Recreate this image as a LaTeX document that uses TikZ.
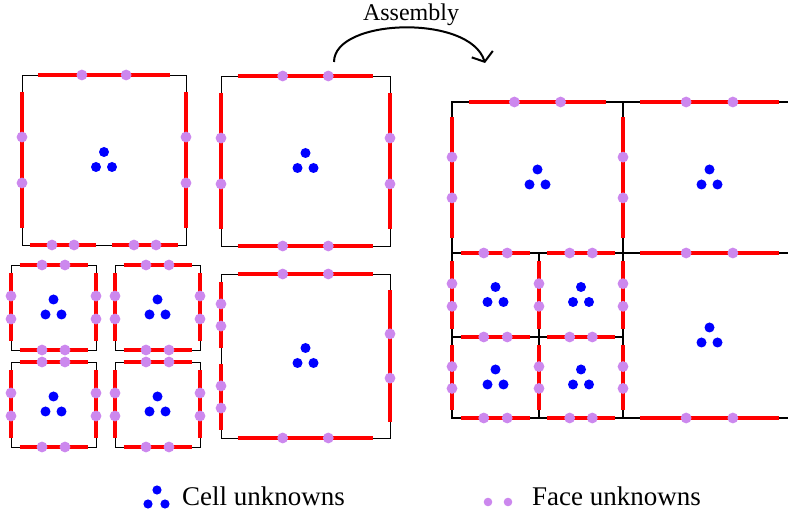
\documentclass[tikz,border=0pt]{standalone}
\usepackage{fontspec}
\setmainfont{Liberation Serif}
\usepackage{tikz}
\usetikzlibrary{arrows.meta,calc}
\definecolor{cellblue}{RGB}{0,0,255}
\definecolor{facepurple}{RGB}{204,136,238}
\newcommand{\hhoface}[2]{%
  \draw[facered] ($#1!0.1!#2$) -- ($#1!0.9!#2$);
  \fill[facedot] ($#1!0.365!#2$) circle[radius=5.4pt];
  \fill[facedot] ($#1!0.635!#2$) circle[radius=5.4pt];
}
\newcommand{\cellunk}[1]{%
  \foreach \dx/\dy in {0/-8,-8/7,8/7}{
    \fill[celldot] ($(#1)+(\dx,\dy)$) circle[radius=5pt];
  }
}

\begin{document}
\begin{tikzpicture}[
      x=1pt, y=-1pt,
      edge/.style={draw=black, line width=0.9pt},
      meshedge/.style={draw=black, line width=1.3pt},
      facered/.style={draw=red, line width=3.3pt},
      facedot/.style={fill=facepurple},
      celldot/.style={fill=cellblue},
      lbl/.style={font=\fontsize{27}{30}\selectfont, inner sep=0pt}
    ]
      \useasboundingbox (0,0) rectangle (788,518);
      \clip (0,0) rectangle (788,518);

      \foreach \xa/\ya/\xb/\yb in {22/75/186/245,11/265/96/350,115/265/200/350,
          11/362/96/447,115/362/200/447,221/76/390/246,221/274/390/438}{
        \draw[edge] (\xa,\ya) rectangle (\xb,\yb);
        \coordinate (ctr) at ($(\xa,\ya)!0.5!(\xb,\yb)$);
        \cellunk{ctr}
      }
      \foreach \xa/\ya/\xb/\yb in {22/75/186/75,22/75/22/245,186/75/186/245,
          22/245/104/245,104/245/186/245,
          221/76/390/76,221/246/390/246,221/76/221/246,390/76/390/246,
          221/274/390/274,221/438/390/438,390/274/390/438,
          221/274/221/356,221/356/221/438}{
        \hhoface{(\xa,\ya)}{(\xb,\yb)}
      }
      \foreach \xa/\ya in {11/265,115/265,11/362,115/362}{
        \hhoface{(\xa,\ya)}{(\xa+85,\ya)}
        \hhoface{(\xa,\ya+85)}{(\xa+85,\ya+85)}
        \hhoface{(\xa,\ya)}{(\xa,\ya+85)}
        \hhoface{(\xa+85,\ya)}{(\xa+85,\ya+85)}
      }

      \draw[meshedge] (452,102) rectangle (796,418);
      \draw[meshedge] (623,102) -- (623,418);
      \draw[meshedge] (452,253) -- (796,253);
      \draw[meshedge] (539,253) -- (539,418);
      \draw[meshedge] (452,337) -- (623,337);
      \foreach \xa/\ya/\xb/\yb in {452/102/623/253,623/102/796/253,623/253/796/418,
          452/253/539/337,539/253/623/337,452/337/539/418,539/337/623/418}{
        \coordinate (ctr) at ($(\xa,\ya)!0.5!(\xb,\yb)$);
        \cellunk{ctr}
      }
      \foreach \xa/\ya/\xb/\yb in {452/102/623/102,623/102/796/102,
          452/102/452/253,623/102/623/253,796/102/796/253,
          452/253/539/253,539/253/623/253,623/253/796/253,
          452/253/452/337,539/253/539/337,623/253/623/337,
          452/337/539/337,539/337/623/337,
          452/337/452/418,539/337/539/418,623/337/623/418,
          452/418/539/418,539/418/623/418,623/418/796/418,
          796/253/796/418}{
        \hhoface{(\xa,\ya)}{(\xb,\yb)}
      }

      \coordinate (asmfrom) at (334,62);
      \coordinate (asmto) at (485,63);
      \draw[line width=2pt, -{Straight Barb[length=8pt,width=22pt]}]
        (asmfrom) .. controls (334,18) and (470,14) .. (asmto);
      \node[lbl, font=\fontsize{24}{28}\selectfont, anchor=base] (asmlbl) at (411,21) {Assembly};

      \foreach \lx/\ly in {157/490,148/504,165/504}{
        \fill[celldot] (\lx,\ly) circle[radius=4.6pt];
      }
      \node[lbl, anchor=base west] (celllbl) at (182,506) {Cell unknowns};
      \foreach \lx in {488,508}{
        \fill[facedot] (\lx,502) circle[radius=4.3pt];
      }
      \node[lbl, anchor=base west] (facelbl) at (532,506) {Face unknowns};
    \end{tikzpicture}
\end{document}
